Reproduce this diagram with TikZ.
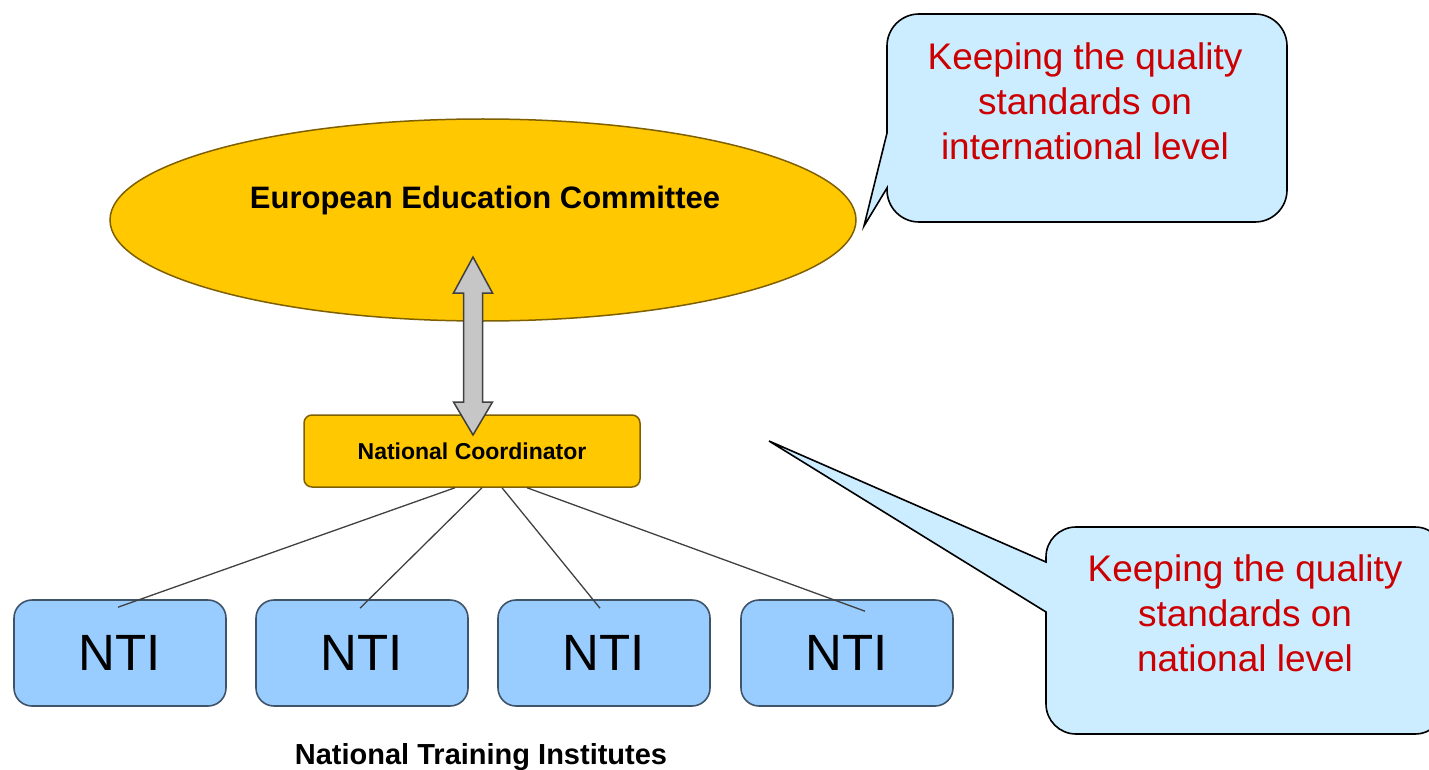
\documentclass[tikz,border=0pt]{standalone}
\usepackage{fontspec}
\setmainfont{Liberation Sans}
\usetikzlibrary{shapes.geometric}

\definecolor{gold}{HTML}{FFC800}
\definecolor{golddark}{HTML}{7F6000}
\definecolor{ntiblue}{HTML}{99CCFF}
\definecolor{ntiedge}{HTML}{3F5468}
\definecolor{noteblue}{HTML}{CCECFF}
\definecolor{notered}{HTML}{CC0000}
\definecolor{linkgray}{HTML}{404040}

\begin{document}
\begin{tikzpicture}[x=1pt,y=-1pt,
    ntibox/.style={draw=ntiedge,line width=1.6pt,fill=ntiblue,rounded corners=18pt,
      minimum width=212pt,minimum height=106pt,inner sep=0pt,
      font=\fontsize{51}{56}\selectfont},
    link/.style={draw=linkgray,line width=1.3pt},
    balloon/.style={draw=black,line width=1.6pt,fill=noteblue},
    notetext/.style={align=center,text=notered,font=\fontsize{37}{45}\selectfont}]

  % page frame, one unit = one pixel
  \useasboundingbox (0,0) rectangle (1429,770);

  % committee on top
  \node[ellipse,draw=golddark,line width=1.5pt,fill=gold,
        minimum width=746pt,minimum height=202pt,inner sep=0pt] (eec) at (483,220) {};
  \node[font=\bfseries\fontsize{31}{36}\selectfont] (eectext) at (485,200) {European Education Committee};

  % national coordinator
  \node[draw=golddark,line width=1.5pt,fill=gold,rounded corners=8pt,
        minimum width=336pt,minimum height=72pt,inner sep=0pt,
        font=\bfseries\fontsize{23}{28}\selectfont] (nc) at (472,451) {National Coordinator};

  % two-way arrow between committee and coordinator
  \coordinate (arrowmid) at (473,346);
  \draw[shift={(arrowmid)},draw=linkgray,line width=1.5pt,fill=gray!45,line join=miter]
    (0,-89) -- (19.5,-53) -- (9.5,-53) -- (9.5,56) -- (19.5,56) -- (0,89)
    -- (-19.5,56) -- (-9.5,56) -- (-9.5,-53) -- (-19.5,-53) -- cycle;

  % training institutes
  \node[ntibox] (nti1) at (120,653) {NTI};
  \node[ntibox] (nti2) at (362,653) {NTI};
  \node[ntibox] (nti3) at (604,653) {NTI};
  \node[ntibox] (nti4) at (847,653) {NTI};
  \node[font=\bfseries\fontsize{29}{34}\selectfont] (ntilabel) at (481,757) {National Training Institutes};

  % coordinator to each institute
  \draw[link] ([xshift=-17pt]nc.south) -- ([xshift=-2pt,yshift=-8pt]nti1.north);
  \draw[link] ([xshift=10pt]nc.south)  -- ([xshift=-2pt,yshift=-9pt]nti2.north);
  \draw[link] ([xshift=30pt]nc.south)  -- ([xshift=-4pt,yshift=-9pt]nti3.north);
  \draw[link] ([xshift=55pt]nc.south)  -- ([xshift=18pt,yshift=-12pt]nti4.north);

  % speech balloons
  \coordinate (tipintl) at (864,226);
  \coordinate (tipnat) at (769,441);
  \draw[balloon] (887,133) [rounded corners=32pt] -- (887,14) -- (1287,14) -- (1287,222)
    -- (887,222) [sharp corners] -- (887,188) -- (tipintl) -- cycle;
  \draw[balloon] (1046,562) [rounded corners=30pt] -- (1046,527) -- (1445,527) -- (1445,734)
    -- (1046,734) [sharp corners] -- (1046,612) -- (tipnat) -- cycle;

  \node[notetext] (intl) at (1085,101) {Keeping the quality\\standards on\\international level};
  \node[notetext] (nat) at (1245,613) {Keeping the quality\\standards on\\national level};

\end{tikzpicture}
\end{document}
